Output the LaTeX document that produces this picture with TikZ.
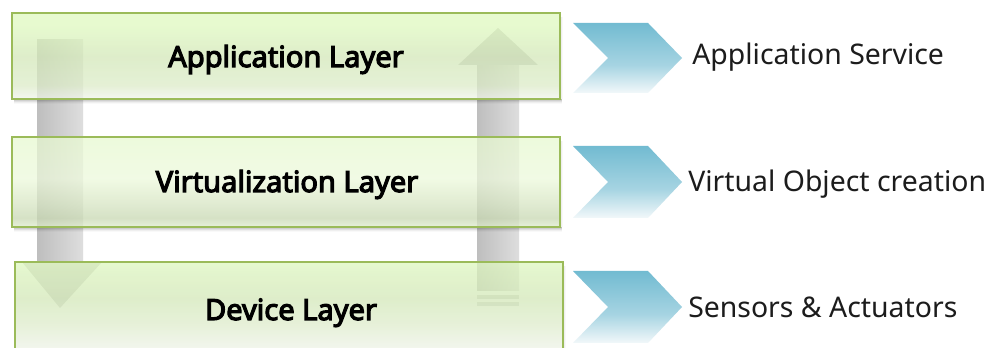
\documentclass[tikz,border=0pt]{standalone}
\usepackage{fontspec}
\setmainfont{Noto Sans}[AutoFakeBold=4]

\definecolor{layerborder}{HTML}{9BBB59}
\definecolor{limetop}{HTML}{DFF9BF}
\definecolor{limemid}{HTML}{D3E8B8}
\definecolor{limeband}{HTML}{C8D8B2}
\definecolor{limepale}{HTML}{EDF9DC}
\definecolor{limefade}{HTML}{F1F4EC}
\definecolor{shaftdark}{HTML}{BEBEBE}
\definecolor{shaftlight}{HTML}{DEDEDE}
\definecolor{chevtop}{HTML}{72BBD1}
\definecolor{chevmid}{HTML}{A6D4E2}
\definecolor{chevbot}{HTML}{F2F8FA}
\definecolor{labeltext}{HTML}{1C1C1C}

% vertical fills of the three layer boxes (the path maps to 25bp..75bp)
\pgfdeclareverticalshading{appfill}{100bp}{color(0bp)=(limefade); color(25bp)=(limefade);
  color(33bp)=(limemid!70!limefade); color(50bp)=(limemid); color(68bp)=(limetop);
  color(75bp)=(limetop); color(100bp)=(limetop)}
\pgfdeclareverticalshading{virtfill}{100bp}{color(0bp)=(limemid); color(25bp)=(limemid!60!limefade);
  color(30bp)=(limeband); color(38bp)=(limeband!60!limepale); color(52bp)=(limepale);
  color(75bp)=(limepale!60!limetop); color(100bp)=(limetop)}
\pgfdeclareverticalshading{devfill}{100bp}{color(0bp)=(limefade); color(25bp)=(limefade);
  color(40bp)=(limemid!60!limefade); color(55bp)=(limemid); color(70bp)=(limetop!60!limemid);
  color(75bp)=(limetop); color(100bp)=(limetop)}
\pgfdeclareverticalshading{chevfill}{100bp}{color(0bp)=(chevbot); color(25bp)=(chevbot);
  color(45bp)=(chevmid); color(75bp)=(chevtop); color(100bp)=(chevtop)}

\tikzset{
  layerbox/.style={draw=layerborder, line width=1.2pt, fill opacity=0.74, inner sep=0pt,
    minimum width=411pt},
  layerlabel/.style={font=\bfseries\fontsize{21.8}{26}\selectfont, text=black, anchor=base, inner sep=0pt},
  shaft/.style={left color=shaftdark, right color=shaftlight},
  chevron/.style={shading=chevfill},
  servicetext/.style={font=\fontsize{21.3}{26}\selectfont, text=labeltext, anchor=base west, inner sep=0pt},
}

\newcommand{\softshadow}[4]{% x1, x2, bottom y, top y
  \foreach \d/\o in {1/0.10,2/0.08,3/0.06,4/0.04,5/0.025}{
    \fill[black, opacity=\o] (#1+2,#3) rectangle (#2+2,#3+\d);
  }
  \foreach \d/\o in {1/0.06,2/0.04,3/0.025}{
    \fill[black, opacity=\o] (#2,#4+4) rectangle (#2+\d,#3);
  }
}

\begin{document}
\begin{tikzpicture}[x=0.75pt, y=-0.75pt]
\useasboundingbox (0,0) rectangle (988,348);
\clip (0,0) rectangle (988,348);
\fill[white] (0,0) rectangle (988,348);

% downward shaft on the left, its head sits inside the device layer
\shade[shaft] (37,40) rectangle (83,262);
\fill[shaftdark!80!white] (22,262) -- (102,262) -- (60,308) -- cycle;

% upward shaft on the right, its head sits inside the application layer
\shade[shaft] (477,65) rectangle (519,291);
\fill[shaftdark!90!white] (458,65) -- (538,65) -- (498,28) -- cycle;
\fill[shaftdark!70!white] (477,295) rectangle (519,299);
\fill[shaftdark!70!white] (477,302) rectangle (519,306);

% drop shadows of the layer boxes
\softshadow{12}{560}{99}{13}
\softshadow{12}{560}{227}{137}
\softshadow{15}{563}{352}{262}

% layer boxes
\node[layerbox, shade, shading=appfill,  minimum height=64.5pt] (appbox)  at (286,56)  {};
\node[layerbox, shade, shading=virtfill, minimum height=67.5pt] (virtbox) at (286,182) {};
\node[layerbox, shade, shading=devfill,  minimum height=67.5pt] (devbox)  at (289,307) {};

% layer names
\node[layerlabel] (applabel)  at (286,67)  {Application Layer};
\node[layerlabel] (virtlabel) at (287,192) {Virtualization Layer};
\node[layerlabel] (devlabel)  at (291,320) {Device Layer};

% chevrons pointing to the services
\shade[chevron] (573,23)  -- (648,23)  -- (682,58)  -- (648,93)  -- (573,93)  -- (608,58)  -- cycle;
\shade[chevron] (573,146) -- (648,146) -- (682,182) -- (648,218) -- (573,218) -- (608,182) -- cycle;
\shade[chevron] (573,271) -- (648,271) -- (682,307) -- (648,343) -- (573,343) -- (608,307) -- cycle;

% services provided by each layer
\node[servicetext] (appsvc)  at (692,65)  {Application Service};
\node[servicetext] (virtsvc) at (688,192) {Virtual Object creation};
\node[servicetext] (devsvc)  at (688,318) {Sensors \& Actuators};
\end{tikzpicture}
\end{document}
